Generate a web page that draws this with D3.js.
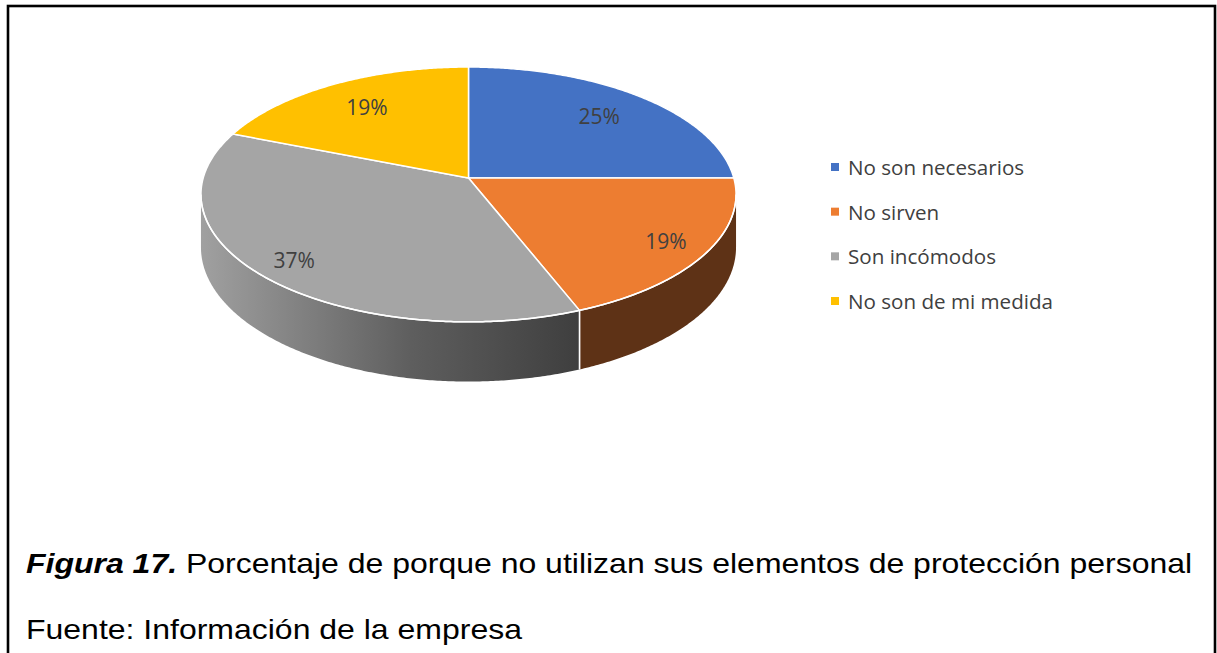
<!DOCTYPE html>
<html>
<head>
<meta charset="utf-8">
<script src="https://cdn.jsdelivr.net/npm/d3@7"></script>
<style>
html,body{margin:0;padding:0;background:#fff;}
svg{display:block;}
</style>
</head>
<body>
<svg id="chart" width="1217" height="653"></svg>
<script>
const categories = ["No son necesarios", "No sirven", "Son incómodos", "No son de mi medida"];
const values = [25, 19, 37, 19];
const labels = ["25%", "19%", "37%", "19%"];
const topColors = ["#4472C4", "#ED7D31", "#A5A5A5", "#FFC000"];
const sideColors = ["#2a4677", "#5e3216", "url(#graySide)", "#8f6d00"];

const svg = d3.select("#chart");

// frame
svg.append("rect").attr("x", 8).attr("y", 6).attr("width", 1207).attr("height", 700)
  .attr("fill", "none").attr("stroke", "#000").attr("stroke-width", 2.6);

const defs = svg.append("defs");
const g1 = defs.append("linearGradient").attr("id", "graySide")
  .attr("gradientUnits", "userSpaceOnUse").attr("x1", 202).attr("x2", 583).attr("y1", 0).attr("y2", 0);
g1.append("stop").attr("offset", 0).attr("stop-color", "#a0a0a0");
g1.append("stop").attr("offset", 0.55).attr("stop-color", "#5e5e5e");
g1.append("stop").attr("offset", 1).attr("stop-color", "#3e3e3e");

// projection of a tilted disk (perspective homography)
const cx = 468.5, cy = 178, A = 265.3, B = 125.3, k = -0.129, D = 52;
function proj(theta, r, drop) {
  const u = r * Math.sin(theta), v = -r * Math.cos(theta);
  const den = 1 + k * v;
  return [cx + A * u / den, cy + B * v / den + (drop ? D / den : 0)];
}

const pie = d3.pie().sort(null).value(d => d)(values);
const rad = Math.PI / 180;
// silhouette where v = -k  => cos(theta)=k
const sL = Math.acos(k), sR = 2 * Math.PI - Math.acos(k);

function arcPts(a0, a1, drop) {
  const pts = [];
  const steps = Math.max(2, Math.ceil((a1 - a0) / (0.5 * rad)));
  for (let i = 0; i <= steps; i++) {
    const t = a0 + (a1 - a0) * i / steps;
    pts.push(proj(t, 1, drop));
  }
  return pts;
}

const line = d3.line();
const sideG = svg.append("g");
const topG = svg.append("g");

// sides (front-visible part only)
pie.forEach((p, i) => {
  const a0 = Math.max(p.startAngle, sL), a1 = Math.min(p.endAngle, sR);
  if (a1 <= a0) return;
  const top = arcPts(a0, a1, false);
  const bot = arcPts(a0, a1, true).reverse();
  sideG.append("path").attr("d", line(top.concat(bot)) + "Z")
    .attr("fill", sideColors[i]).attr("stroke", "none");
  [p.startAngle, p.endAngle].forEach(a => {
    if (a > sL + 0.01 && a < sR - 0.01) {
      const t = proj(a, 1, false), b = proj(a, 1, true);
      sideG.append("line").attr("x1", t[0]).attr("y1", t[1]).attr("x2", b[0]).attr("y2", b[1])
        .attr("stroke", "#fff").attr("stroke-width", 1.5);
    }
  });
});

// top faces
pie.forEach((p, i) => {
  const pts = [[cx, cy]].concat(arcPts(p.startAngle, p.endAngle, false));
  topG.append("path").attr("d", line(pts) + "Z")
    .attr("fill", topColors[i]).attr("stroke", "#fff").attr("stroke-width", 1.5)
    .attr("stroke-linejoin", "round");
});
topG.append("path").attr("d", line(arcPts(sL, sR, false)))
  .attr("fill", "none").attr("stroke", "#fff").attr("stroke-width", 1.5);

// data labels
pie.forEach((p, i) => {
  const mid = (p.startAngle + p.endAngle) / 2;
  const v = -Math.cos(mid);
  const r = 0.8 + 0.08 * v;
  const [x, y] = proj(mid, r, false);
  svg.append("text").attr("x", x).attr("y", y)
    .attr("text-anchor", "middle").attr("dominant-baseline", "central")
    .attr("font-family", "'Open Sans', sans-serif").attr("font-size", 21)
    .attr("fill", "#404040").text(labels[i]);
});

// legend
const legY = d3.scalePoint().domain(categories).range([167, 301]);
const leg = svg.append("g");
categories.forEach((c, i) => {
  leg.append("rect").attr("x", 831).attr("y", legY(c) - 4).attr("width", 8).attr("height", 8)
    .attr("fill", topColors[i]);
  leg.append("text").attr("x", 848).attr("y", legY(c))
    .attr("dominant-baseline", "central")
    .attr("font-family", "'Open Sans', sans-serif").attr("font-size", 20.6)
    .attr("fill", "#404040").text(c);
});

// caption
const cap = svg.append("text").attr("transform", "translate(26,573) scale(1.143,1)")
  .attr("font-family", "'Liberation Sans', Arial, sans-serif").attr("font-size", 28).attr("fill", "#000");
cap.append("tspan").attr("font-weight", "bold").attr("font-style", "italic").text("Figura 17.");
cap.append("tspan").text(" Porcentaje de porque no utilizan sus elementos de protección personal");
svg.append("text").attr("transform", "translate(26,639) scale(1.143,1)")
  .attr("font-family", "'Liberation Sans', Arial, sans-serif").attr("font-size", 28).attr("fill", "#000")
  .text("Fuente: Información de la empresa");
</script>
</body>
</html>
